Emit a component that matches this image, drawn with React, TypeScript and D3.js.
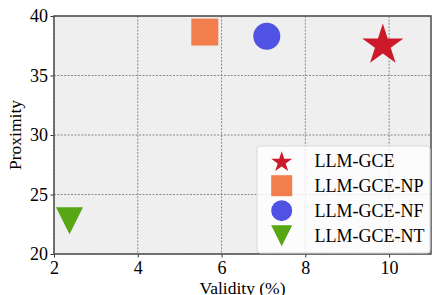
import * as React from "react";
import { useEffect, useRef } from "react";
import * as d3 from "d3";

const methods = ["LLM-GCE", "LLM-GCE-NP", "LLM-GCE-NF", "LLM-GCE-NT"];
const validity = [9.85, 5.6, 7.08, 2.37];
const proximity = [37.55, 38.65, 38.3, 22.8];
const shapes = ["star", "square", "circle", "triangleDown"];
const colors = ["#cc1a2b", "#f17e4c", "#4f52e2", "#57a613"];
const xTicks = [2, 4, 6, 8, 10];
const yTicks = [20, 25, 30, 35, 40];

const W = 432;
const H = 295;
const margin = { top: 16, right: 1, bottom: 41, left: 54 };
const FONT = "'Liberation Serif', 'Times New Roman', serif";

// marker path centred at 0,0, s = half width of the marker box
function markerPath(shape: string, s: number) {
  if (shape === "square") return `M${-s},${-s}H${s}V${s}H${-s}Z`;
  if (shape === "circle") return `M${s},0A${s},${s} 0 1,1 ${-s},0A${s},${s} 0 1,1 ${s},0Z`;
  if (shape === "triangleDown") return `M${-s},${-s}H${s}L0,${s}Z`;
  // star, like matplotlib's '*'
  const inner = s * 0.381966;
  const pts: string[] = [];
  for (let i = 0; i < 10; i++) {
    const r = i % 2 === 0 ? s : inner;
    const a = (i * Math.PI) / 5;
    pts.push(`${r * Math.sin(a)},${-r * Math.cos(a)}`);
  }
  return "M" + pts.join("L") + "Z";
}

export default function App() {
  const svgRef = useRef<SVGSVGElement>(null);

  useEffect(() => {
    if (!svgRef.current) return;
    const svg = d3.select(svgRef.current);
    svg.selectAll("*").remove();

    const x = d3.scaleLinear().domain([2, 11]).range([margin.left, W - margin.right]);
    const y = d3.scaleLinear().domain([20, 40]).range([H - margin.bottom, margin.top]);

    // background
    svg.append("rect")
      .attr("x", margin.left)
      .attr("y", margin.top)
      .attr("width", W - margin.right - margin.left)
      .attr("height", H - margin.bottom - margin.top)
      .attr("fill", "#efefef");

    // grid
    const grid = svg.append("g").attr("stroke", "#707070").attr("stroke-width", 0.8).attr("stroke-dasharray", "2,1.4");
    grid.selectAll("line.gx")
      .data(xTicks)
      .join("line")
      .attr("x1", d => x(d)).attr("x2", d => x(d))
      .attr("y1", margin.top).attr("y2", H - margin.bottom);
    grid.selectAll("line.gy")
      .data(yTicks)
      .join("line")
      .attr("class", "gy")
      .attr("y1", d => y(d)).attr("y2", d => y(d))
      .attr("x1", margin.left).attr("x2", W - margin.right);

    // axes
    const xAxis = svg.append("g")
      .attr("transform", `translate(0,${H - margin.bottom})`)
      .call(d3.axisBottom(x).tickValues(xTicks).tickSize(3.5).tickPadding(3.5));
    const yAxis = svg.append("g")
      .attr("transform", `translate(${margin.left},0)`)
      .call(d3.axisLeft(y).tickValues(yTicks).tickSize(3.5).tickPadding(2.5));
    [xAxis, yAxis].forEach(g => {
      g.select(".domain").remove();
      g.selectAll("line").attr("stroke", "#333").attr("stroke-width", 1);
      g.selectAll("text").attr("font-family", FONT).attr("font-size", 18).attr("fill", "#000");
    });

    // spines
    svg.append("rect")
      .attr("x", margin.left)
      .attr("y", margin.top)
      .attr("width", W - margin.right - margin.left)
      .attr("height", H - margin.bottom - margin.top)
      .attr("fill", "none")
      .attr("stroke", "#555")
      .attr("stroke-width", 1.6);

    // points
    const sizes: Record<string, number> = { star: 21.7, square: 13.5, circle: 13.5, triangleDown: 13.5 };
    svg.append("g")
      .selectAll("path")
      .data(methods)
      .join("path")
      .attr("transform", (_, i) => `translate(${x(validity[i])},${y(proximity[i])})`)
      .attr("d", (_, i) => markerPath(shapes[i], sizes[shapes[i]]))
      .attr("fill", (_, i) => colors[i]);

    // axis labels
    svg.append("text")
      .attr("x", (margin.left + W - margin.right) / 2)
      .attr("y", H - 1)
      .attr("text-anchor", "middle")
      .attr("font-family", FONT)
      .attr("font-size", 17.5)
      .text("Validity (%)");
    svg.append("text")
      .attr("transform", `translate(21,${(margin.top + H - margin.bottom) / 2}) rotate(-90)`)
      .attr("text-anchor", "middle")
      .attr("font-family", FONT)
      .attr("font-size", 17.5)
      .text("Proximity");

    // legend
    const lg = svg.append("g").attr("transform", "translate(257,146)");
    lg.append("rect")
      .attr("width", 173)
      .attr("height", 107)
      .attr("rx", 3)
      .attr("fill", "#fff")
      .attr("fill-opacity", 0.8)
      .attr("stroke", "#d8d8d8")
      .attr("stroke-width", 1);
    const legendSizes: Record<string, number> = { star: 11, square: 10.5, circle: 10.5, triangleDown: 10.5 };
    const items = lg.selectAll("g.item")
      .data(methods)
      .join("g")
      .attr("class", "item")
      .attr("transform", (_, i) => `translate(0,${14.7 + i * 25})`);
    items.append("path")
      .attr("transform", (_, i) => `translate(24.7,${shapes[i] === "star" ? 1.5 : 0})`)
      .attr("d", (_, i) => markerPath(shapes[i], legendSizes[shapes[i]]))
      .attr("fill", (_, i) => colors[i]);
    items.append("text")
      .attr("x", 57.5)
      .attr("y", 6)
      .attr("font-family", FONT)
      .attr("font-size", 18)
      .text(d => d);
  }, []);

  return (
    <svg
      ref={svgRef}
      width={W}
      height={H}
      style={{ position: "absolute", left: 0, top: 0, background: "#fff" }}
    />
  );
}
